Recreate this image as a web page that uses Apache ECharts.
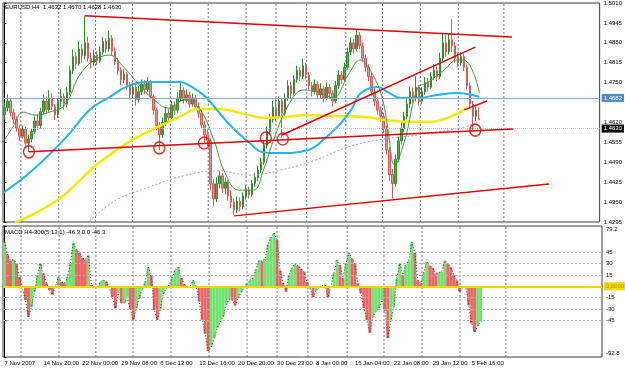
<!DOCTYPE html>
<html>
<head>
<meta charset="utf-8">
<script src="https://cdn.jsdelivr.net/npm/echarts@6/dist/echarts.min.js"></script>
<style>
  html, body { margin: 0; padding: 0; background: #fff; }
  #main { width: 625px; height: 369px; }
</style>
</head>
<body>
<div id="main"></div>
<script>
// EURUSD H4 candles, [open, close, low, high]
var candles = [
  [1.4645,1.4668,1.4630,1.4685],[1.4668,1.4690,1.4655,1.4712],[1.4690,1.4652,1.4640,1.4698],[1.4652,1.4630,1.4615,1.4665],
  [1.4630,1.4601,1.4590,1.4640],[1.4601,1.4575,1.4560,1.4612],[1.4575,1.4598,1.4568,1.4610],[1.4598,1.4552,1.4538,1.4605],
  [1.4552,1.4566,1.4524,1.4580],[1.4566,1.4590,1.4555,1.4602],[1.4590,1.4625,1.4582,1.4640],[1.4625,1.4610,1.4596,1.4648],
  [1.4610,1.4655,1.4600,1.4668],[1.4655,1.4690,1.4645,1.4712],[1.4690,1.4662,1.4650,1.4705],[1.4662,1.4700,1.4655,1.4725],
  [1.4700,1.4672,1.4660,1.4715],[1.4672,1.4645,1.4628,1.4680],[1.4645,1.4688,1.4635,1.4700],[1.4688,1.4705,1.4672,1.4730],
  [1.4705,1.4680,1.4662,1.4715],[1.4680,1.4718,1.4670,1.4735],[1.4718,1.4790,1.4710,1.4805],[1.4790,1.4835,1.4778,1.4858],
  [1.4835,1.4812,1.4795,1.4850],[1.4812,1.4860,1.4805,1.4885],[1.4860,1.4838,1.4815,1.4875],[1.4838,1.4880,1.4826,1.4967],
  [1.4880,1.4830,1.4818,1.4900],[1.4830,1.4815,1.4795,1.4848],[1.4815,1.4840,1.4805,1.4858],[1.4840,1.4822,1.4808,1.4852],
  [1.4822,1.4850,1.4815,1.4868],[1.4850,1.4885,1.4842,1.4900],[1.4885,1.4860,1.4848,1.4895],[1.4860,1.4895,1.4852,1.4920],
  [1.4895,1.4852,1.4840,1.4905],[1.4852,1.4820,1.4808,1.4865],[1.4820,1.4790,1.4775,1.4832],[1.4790,1.4760,1.4742,1.4800],
  [1.4760,1.4778,1.4748,1.4795],[1.4778,1.4740,1.4725,1.4785],[1.4740,1.4712,1.4695,1.4752],[1.4712,1.4735,1.4702,1.4750],
  [1.4735,1.4695,1.4675,1.4745],[1.4695,1.4720,1.4685,1.4738],[1.4720,1.4745,1.4710,1.4760],[1.4745,1.4728,1.4712,1.4758],
  [1.4728,1.4750,1.4720,1.4768],[1.4750,1.4705,1.4695,1.4758],[1.4705,1.4660,1.4645,1.4712],[1.4660,1.4610,1.4595,1.4668],
  [1.4610,1.4580,1.4530,1.4622],[1.4580,1.4620,1.4570,1.4635],[1.4620,1.4650,1.4608,1.4668],[1.4650,1.4635,1.4618,1.4665],
  [1.4635,1.4675,1.4628,1.4690],[1.4675,1.4660,1.4645,1.4688],[1.4660,1.4700,1.4652,1.4718],[1.4700,1.4725,1.4690,1.4750],
  [1.4725,1.4695,1.4682,1.4735],[1.4695,1.4710,1.4685,1.4728],[1.4710,1.4680,1.4668,1.4720],[1.4680,1.4700,1.4672,1.4715],
  [1.4700,1.4672,1.4660,1.4710],[1.4672,1.4650,1.4635,1.4685],[1.4650,1.4612,1.4598,1.4660],[1.4612,1.4580,1.4550,1.4625],
  [1.4580,1.4560,1.4542,1.4595],[1.4560,1.4420,1.4400,1.4568],[1.4420,1.4370,1.4345,1.4435],[1.4370,1.4420,1.4360,1.4440],
  [1.4420,1.4445,1.4405,1.4462],[1.4445,1.4405,1.4390,1.4455],[1.4405,1.4425,1.4385,1.4440],[1.4425,1.4380,1.4365,1.4432],
  [1.4380,1.4360,1.4340,1.4398],[1.4360,1.4335,1.4318,1.4372],[1.4335,1.4362,1.4325,1.4378],[1.4362,1.4345,1.4330,1.4375],
  [1.4345,1.4380,1.4338,1.4392],[1.4380,1.4400,1.4368,1.4415],[1.4400,1.4385,1.4372,1.4410],[1.4385,1.4420,1.4378,1.4432],
  [1.4420,1.4440,1.4410,1.4455],[1.4440,1.4465,1.4428,1.4478],[1.4465,1.4490,1.4455,1.4505],[1.4490,1.4545,1.4482,1.4560],
  [1.4545,1.4590,1.4535,1.4608],[1.4590,1.4630,1.4578,1.4648],[1.4630,1.4670,1.4620,1.4690],[1.4670,1.4640,1.4625,1.4695],
  [1.4640,1.4690,1.4632,1.4705],[1.4690,1.4650,1.4570,1.4702],[1.4650,1.4700,1.4640,1.4715],[1.4700,1.4740,1.4690,1.4758],
  [1.4740,1.4715,1.4700,1.4752],[1.4715,1.4760,1.4708,1.4775],[1.4760,1.4790,1.4750,1.4805],[1.4790,1.4770,1.4755,1.4800],
  [1.4770,1.4805,1.4762,1.4828],[1.4805,1.4775,1.4760,1.4815],[1.4775,1.4740,1.4728,1.4785],[1.4740,1.4720,1.4705,1.4752],
  [1.4720,1.4745,1.4712,1.4760],[1.4745,1.4710,1.4695,1.4755],[1.4710,1.4730,1.4700,1.4748],[1.4730,1.4700,1.4685,1.4740],
  [1.4700,1.4735,1.4692,1.4750],[1.4735,1.4715,1.4700,1.4745],[1.4715,1.4690,1.4672,1.4725],[1.4690,1.4740,1.4682,1.4755],
  [1.4740,1.4775,1.4730,1.4790],[1.4775,1.4760,1.4745,1.4788],[1.4760,1.4800,1.4752,1.4815],[1.4800,1.4850,1.4792,1.4865],
  [1.4850,1.4880,1.4840,1.4898],[1.4880,1.4860,1.4845,1.4892],[1.4860,1.4905,1.4852,1.4925],[1.4905,1.4870,1.4858,1.4915],
  [1.4870,1.4830,1.4818,1.4880],[1.4830,1.4800,1.4785,1.4842],[1.4800,1.4770,1.4755,1.4810],[1.4770,1.4720,1.4705,1.4782],
  [1.4720,1.4690,1.4675,1.4735],[1.4690,1.4660,1.4645,1.4702],[1.4660,1.4640,1.4622,1.4672],[1.4640,1.4600,1.4585,1.4652],
  [1.4600,1.4530,1.4515,1.4610],[1.4530,1.4450,1.4430,1.4540],[1.4450,1.4420,1.4372,1.4468],[1.4420,1.4500,1.4410,1.4515],
  [1.4500,1.4560,1.4490,1.4575],[1.4560,1.4600,1.4548,1.4618],[1.4600,1.4640,1.4588,1.4655],[1.4640,1.4680,1.4630,1.4698],
  [1.4680,1.4720,1.4668,1.4738],[1.4720,1.4700,1.4685,1.4735],[1.4700,1.4735,1.4690,1.4770],[1.4735,1.4690,1.4675,1.4742],
  [1.4690,1.4720,1.4680,1.4735],[1.4720,1.4750,1.4710,1.4768],[1.4750,1.4735,1.4720,1.4765],[1.4735,1.4770,1.4728,1.4785],
  [1.4770,1.4790,1.4758,1.4810],[1.4790,1.4770,1.4755,1.4802],[1.4770,1.4830,1.4762,1.4848],[1.4830,1.4880,1.4820,1.4912],
  [1.4880,1.4850,1.4835,1.4905],[1.4850,1.4890,1.4842,1.4910],[1.4890,1.4870,1.4850,1.4958],[1.4870,1.4830,1.4815,1.4882],
  [1.4830,1.4815,1.4800,1.4848],[1.4815,1.4835,1.4805,1.4850],[1.4835,1.4800,1.4788,1.4845],[1.4800,1.4740,1.4728,1.4808],
  [1.4740,1.4680,1.4665,1.4750],[1.4680,1.4640,1.4595,1.4690],[1.4640,1.4660,1.4625,1.4672],[1.4632,1.4630,1.4628,1.4670]
];

// MACD H4-300(5,13,1) histogram, one value per candle
var macdHist = [
  58, 42, 34, 35, 30, 12, -2, -18, -40, -27, -7, 15, 30, 17, 4, -5, -11, 0, 12, 6,
  4, 12, 30, 57, 48, 44, 37, 35, 41, 2, -1, -1, 6, 8, 6, -2, -14, -29, -9, -22,
  -22, -15, -30, -44, -29, -14, -4, 6, 25, 15, -31, -44, -30, -10, -3, 2, 12, 21, 25, 11,
  3, -2, 0, 8, 0, -20, -44, -62, -85, -80, -68, -55, -47, -40, -24, -17, -18, -25, -15, -8,
  -2, 4, 8, 11, 22, 34, 33, 36, 55, 64, 70, 61, 21, 5, -7, 15, 24, 30, 27, 23,
  19, 6, -2, -14, -6, -2, 1, 2, -15, 0, 18, 34, 28, 11, 30, 44, 36, 30, 4, -9,
  -28, -44, -61, -40, -33, -29, -18, -32, -68, -45, -27, 11, 30, 15, 28, 34, 58, 44, 8, 4,
  18, 32, 27, 24, 17, 18, 19, 34, 30, 25, 15, 8, -7, -2, 0, -25, -49, -60, -52, -46.3
];

// moving averages, [bar index, price]
var maGreen = [
  [-0.5,1.4556],[2.8,1.4605],[6.2,1.4654],[10.2,1.4644],[15.2,1.4654],[20.2,1.4677],[25.2,1.4775],[30.2,1.4824],
  [35.2,1.4840],[40.2,1.4798],[45.2,1.4742],[50.2,1.4693],[55.2,1.4667],[60.2,1.4693],[65.2,1.4667],[70.2,1.4563],
  [73.5,1.4465],[78.5,1.4399],[83.5,1.4399],[86.8,1.4465],[90.2,1.4563],[95.2,1.4677],[100.2,1.4726],[105.2,1.4719],
  [110.2,1.4700],[115.2,1.4775],[119.2,1.4824],[123.5,1.4775],[126.8,1.4693],[128.5,1.4600],[130.8,1.4481],[134.2,1.4563],
  [138.5,1.4732],[141.8,1.4750],[147.2,1.4790],[151.8,1.4824],[155.2,1.4817],[159.2,1.4716]
];
var maBlue = [
  [-0.5,1.4390],[9.5,1.4465],[20.8,1.4573],[28.5,1.4661],[35.2,1.4703],[40.8,1.4736],[47.5,1.4752],[58.5,1.4752],
  [62.8,1.4736],[67.5,1.4703],[71.2,1.4661],[76.2,1.4605],[81.8,1.4556],[86.2,1.4524],[91.8,1.4520],[101.8,1.4530],
  [107.5,1.4569],[112.8,1.4618],[116.2,1.4661],[119.5,1.4716],[125.2,1.4736],[128.5,1.4719],[132.8,1.4700],[138.5,1.4700],
  [145.2,1.4710],[151.8,1.4716],[159.2,1.4703]
];
var maYellow = [
  [3.5,1.4293],[17.8,1.4367],[30.8,1.4481],[42.8,1.4563],[50.8,1.4602],[58.5,1.4638],[65.2,1.4664],[71.8,1.4664],
  [81.8,1.4644],[87.5,1.4635],[94.2,1.4638],[101.8,1.4644],[109.5,1.4641],[120.8,1.4638],[127.5,1.4628],[135.2,1.4622],
  [142.8,1.4622],[148.5,1.4635],[152.8,1.4654],[155.2,1.4670]
];
var maPurple = [
  [28.5,1.4298],[37.5,1.4367],[48.5,1.4409],[60.8,1.4448],[71.8,1.4462],[81.8,1.4448],[92.8,1.4465],[104.2,1.4497],
  [115.2,1.4540],[125.2,1.4563],[138.5,1.4579],[154.2,1.4605],[157.5,1.4618]
];

// drawn trend lines and marked touches, [bar index, price]
var trendLines = [
  [[26.9,1.4968],[170.1,1.4899]],
  [[8.2,1.4524],[170.5,1.4599]],
  [[77.0,1.4315],[182.5,1.4419]],
  [[93.0,1.4579],[157.8,1.4866]],
  [[154.1,1.4661],[161.8,1.4690]]
];
var circleMarks = [[8.2,1.4524],[51.9,1.4537],[66.9,1.4553],[87.6,1.4569],[93.3,1.4566],[157.8,1.4595]];

var bidPrice = 1.4682;
var lastPrice = 1.4630;
var priceTicks = [1.5010,1.4945,1.4880,1.4815,1.4750,1.4620,1.4555,1.4490,1.4425,1.4360,1.4295];
var macdTicks = [79.2,45,30,15,-15,-30,-45,-92.8];
var macdLevels = [45,30,15,-15,-30,-45];
var timeLabels = ['7 Nov 2007','14 Nov 20:00','22 Nov 00:00','29 Nov 08:00','6 Dec 12:00','13 Dec 16:00',
  '20 Dec 20:00','30 Dec 23:00','8 Jan 00:00','15 Jan 04:00','22 Jan 08:00','29 Jan 12:00','5 Feb 16:00'];
// weekly separators, in bar slots
var vGrid = [5.5,18.2,30.5,42.9,55.6,68.3,81.0,91.0,101.3,114.4,126.7,139.4,152.1,167.4];

var FONT = '"Liberation Sans", Arial, sans-serif';
var slots = 200; // candles fill 160 slots, the rest is the empty shift on the right
var cats = [];
for (var i = 0; i < slots; i++) cats.push(String(i));

var myChart = echarts.init(document.getElementById('main'));

function maSeries(data, color, width, type) {
    return {
        type: 'line', xAxisIndex: 1, yAxisIndex: 0, data: data,
        smooth: 0.4, symbol: 'none', silent: true, z: 4,
        lineStyle: { color: color, width: width, type: type || 'solid' }
    };
}

var series = [
    {
        type: 'candlestick', xAxisIndex: 0, yAxisIndex: 0, data: candles,
        barWidth: 2, z: 3,
        itemStyle: { color: '#55aa55', color0: '#ec8f8f', borderColor: '#2f8f2f', borderColor0: '#d85a5a', borderWidth: 1 },
        markLine: {
            symbol: ['none', 'none'], silent: true, animation: false,
            data: [
                { yAxis: bidPrice, lineStyle: { color: '#86acd8', width: 1, type: 'solid' },
                  label: { show: true, position: 'end', distance: 2, formatter: bidPrice.toFixed(4), backgroundColor: '#4f89c8',
                           color: '#fff', fontSize: 6, fontFamily: FONT, padding: [1, 2] } },
                { yAxis: lastPrice, lineStyle: { color: '#c4c4c4', width: 1, type: 'dotted' },
                  label: { show: true, position: 'end', distance: 2, formatter: lastPrice.toFixed(4), backgroundColor: '#000',
                           color: '#fff', fontSize: 6, fontFamily: FONT, padding: [1, 2] } }
            ]
        }
    },
    maSeries(maPurple, '#b48ae6', 1, [2, 2]),
    maSeries(maYellow, '#f7ea00', 2.5),
    maSeries(maBlue, '#22b4ec', 2),
    maSeries(maGreen, '#3f9a3f', 1)
];

// weekly dashed separators in both panels
vGrid.forEach(function (v) {
    series.push({
        type: 'line', xAxisIndex: 1, yAxisIndex: 0, data: [[v, 1.4295], [v, 1.5010]],
        symbol: 'none', silent: true, z: 1, lineStyle: { color: '#777', width: 1, type: [2, 2] }
    });
    series.push({
        type: 'line', xAxisIndex: 3, yAxisIndex: 1, data: [[v, -92.8], [v, 79.2]],
        symbol: 'none', silent: true, z: 4, lineStyle: { color: '#777', width: 1, type: [2, 2] }
    });
});

trendLines.forEach(function (seg) {
    series.push({
        type: 'line', xAxisIndex: 1, yAxisIndex: 0, data: seg, symbol: 'none', silent: true, z: 5,
        lineStyle: { color: '#e20000', width: 1.5 }
    });
});

series.push({
    type: 'scatter', xAxisIndex: 1, yAxisIndex: 0, data: circleMarks, symbol: 'circle', symbolSize: [11, 12], z: 6,
    itemStyle: { color: 'rgba(0,0,0,0)', borderColor: '#e20000', borderWidth: 1.5 }
});

// MACD panel
series.push({
    type: 'bar', xAxisIndex: 2, yAxisIndex: 1, data: macdHist, barCategoryGap: '0%', z: 2,
    itemStyle: {
        color: function (p) {
            var prev = p.dataIndex > 0 ? macdHist[p.dataIndex - 1] : p.value;
            return p.value >= prev ? '#6ee46e' : '#ef6464';
        }
    },
    markLine: {
        symbol: ['none', 'none'], silent: true, animation: false,
        data: [
            { yAxis: 0, lineStyle: { color: '#f7d700', width: 2, type: 'solid' },
              label: { show: true, position: 'end', distance: 2, formatter: '0.0000', backgroundColor: '#f7d700',
                       color: '#b59a00', fontSize: 6, fontFamily: FONT, padding: [1, 2] } }
        ].concat(macdLevels.map(function (v) {
            return { yAxis: v, lineStyle: { color: '#b4b4b4', width: 1, type: [2, 2] }, label: { show: false } };
        }))
    }
});
series.push({
    type: 'line', xAxisIndex: 2, yAxisIndex: 1, data: macdHist, symbol: 'none', silent: true, z: 3,
    lineStyle: { color: '#333', width: 1, type: [1, 2] }
});

var axisText = { fontSize: 6, color: '#000', fontFamily: FONT };

myChart.setOption({
    animation: false,
    backgroundColor: '#fff',
    textStyle: { fontFamily: FONT },
    title: [
        { text: 'EURUSD,H4  1.4632 1.4670 1.4628 1.4630', left: 5, top: 4, padding: 0,
          textStyle: { fontSize: 6, fontWeight: 'normal', color: '#000', fontFamily: FONT } },
        { text: 'MACD H4-300(5,13,1) -46.3 0.0 -46.3', left: 5, top: 229, padding: 0,
          textStyle: { fontSize: 6, fontWeight: 'normal', color: '#000', fontFamily: FONT } }
    ],
    grid: [
        { left: 3, right: 23, top: 3, height: 219, show: true, borderColor: '#3c3c3c', borderWidth: 1 },
        { left: 3, right: 23, top: 226, height: 131, show: true, borderColor: '#3c3c3c', borderWidth: 1 }
    ],
    xAxis: [
        { type: 'category', gridIndex: 0, data: cats, show: false },
        { type: 'value', gridIndex: 0, min: -0.5, max: slots - 0.5, show: false },
        { type: 'category', gridIndex: 1, data: cats,
          axisLine: { lineStyle: { color: '#000' } },
          axisTick: { interval: 12, length: 3, alignWithLabel: true, lineStyle: { color: '#000' } },
          axisLabel: Object.assign({ interval: 12, align: 'left', margin: 3,
              formatter: function (v, idx) { return timeLabels[idx / 13] || ''; } }, axisText) },
        { type: 'value', gridIndex: 1, min: -0.5, max: slots - 0.5, show: false }
    ],
    yAxis: [
        { type: 'value', gridIndex: 0, position: 'right', min: 1.4295, max: 1.5010, scale: true,
          splitLine: { show: false },
          axisLine: { show: true, lineStyle: { color: '#000' } },
          axisTick: { show: true, length: 2, customValues: priceTicks, lineStyle: { color: '#000' } },
          axisLabel: Object.assign({ customValues: priceTicks, margin: 4,
              formatter: function (v) { return v.toFixed(4); } }, axisText) },
        { type: 'value', gridIndex: 1, position: 'right', min: -92.8, max: 79.2,
          splitLine: { show: false },
          axisLine: { show: true, lineStyle: { color: '#000' } },
          axisTick: { show: true, length: 2, customValues: macdTicks, lineStyle: { color: '#000' } },
          axisLabel: Object.assign({ customValues: macdTicks, margin: 4,
              formatter: function (v) {
                  if (v === macdTicks[0]) return '{top|' + v + '}';
                  if (v === macdTicks[macdTicks.length - 1]) return '{bot|' + v + '}';
                  return String(v);
              },
              rich: {
                  top: { fontSize: 6, fontFamily: FONT, color: '#000', padding: [7, 0, 0, 0] },
                  bot: { fontSize: 6, fontFamily: FONT, color: '#000', padding: [0, 0, 8, 0] }
              } }, axisText) }
    ],
    series: series
});
</script>
</body>
</html>
